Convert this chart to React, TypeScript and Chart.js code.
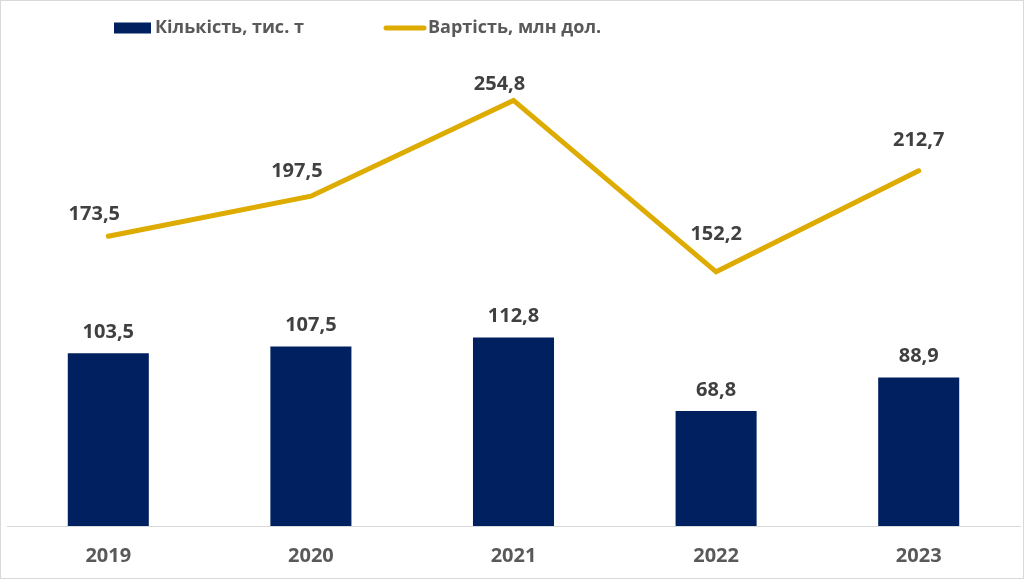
import { useEffect, useRef } from "react"
import { Chart, registerables } from "chart.js"
import type { Plugin } from "chart.js"

Chart.register(...registerables)

const years = ["2019", "2020", "2021", "2022", "2023"]
const quantity = [103.5, 107.5, 112.8, 68.8, 88.9]
const value = [173.5, 197.5, 254.8, 152.2, 212.7]
const seriesNames = ["Кількість, тис. т", "Вартість, млн дол."]

const navy = "#002060"
const gold = "#DEAB00"
const fontFamily = "'Open Sans', 'Noto Sans', sans-serif"

// label nudges for the line, px: [dx, height above the point]
const lineLabelShift = [[-14, 22], [-14, 25], [-14, 16], [0, 38], [0, 30]]
const barLabelLift = 21

const fmt = (v: number) => v.toFixed(1).replace(".", ",")

const valueLabels: Plugin = {
  id: "valueLabels",
  afterDatasetsDraw(chart) {
    const { ctx } = chart
    ctx.save()
    ctx.font = `bold 20px ${fontFamily}`
    ctx.fillStyle = "#404040"
    ctx.textAlign = "center"
    ctx.textBaseline = "middle"
    chart.data.datasets.forEach((ds, di) => {
      const meta = chart.getDatasetMeta(di)
      meta.data.forEach((el, i) => {
        const v = ds.data[i] as number
        if (meta.type === "bar") {
          ctx.fillText(fmt(v), el.x, el.y - barLabelLift)
        } else {
          const [dx, dy] = lineLabelShift[i]
          ctx.fillText(fmt(v), el.x + dx, el.y - dy)
        }
      })
    })
    ctx.restore()
  },
}

// legend row, placed as in the original (left of centre)
const legendRow: Plugin = {
  id: "legendRow",
  afterDraw(chart) {
    const { ctx } = chart
    const y = 27
    ctx.save()
    ctx.font = `bold 18px ${fontFamily}`
    ctx.textBaseline = "middle"
    // bar swatch
    ctx.fillStyle = navy
    ctx.fillRect(113, y - 5.5, 37, 11)
    ctx.fillStyle = "#595959"
    ctx.fillText(seriesNames[0], 154, y)
    // line swatch
    ctx.strokeStyle = gold
    ctx.lineWidth = 5
    ctx.lineCap = "round"
    ctx.beginPath()
    ctx.moveTo(385, y)
    ctx.lineTo(423, y)
    ctx.stroke()
    ctx.fillText(seriesNames[1], 427, y)
    ctx.restore()
  },
}

function ExportChart() {
  const canvasRef = useRef<HTMLCanvasElement>(null)
  const chartRef = useRef<Chart | null>(null)

  useEffect(() => {
    if (!canvasRef.current) return
    if (chartRef.current) chartRef.current.destroy()

    chartRef.current = new Chart(canvasRef.current, {
      type: "bar",
      data: {
        labels: years,
        datasets: [
          {
            type: "line",
            label: seriesNames[1],
            data: value,
            borderColor: gold,
            backgroundColor: gold,
            borderWidth: 5,
            borderCapStyle: "round",
            pointRadius: 0,
            tension: 0,
            order: 0,
          },
          {
            type: "bar",
            label: seriesNames[0],
            data: quantity,
            backgroundColor: navy,
            borderWidth: 0,
            barPercentage: 0.4,
            categoryPercentage: 1,
            order: 1,
          },
        ],
      },
      options: {
        responsive: true,
        maintainAspectRatio: false,
        animation: false,
        // the axis box reserves tick padding twice, so pull it below the edge
        layout: { padding: { top: 49, left: 6, right: 3, bottom: -8 } },
        plugins: {
          legend: { display: false },
          tooltip: { enabled: false },
        },
        scales: {
          x: {
            offset: true,
            grid: { display: false, drawTicks: false },
            border: { display: true, color: "#d9d9d9", width: 1 },
            ticks: {
              color: "#595959",
              padding: 18,
              font: { family: fontFamily, size: 20, weight: "bold" },
            },
          },
          y: { display: false, min: 0, max: 285 },
        },
      },
      plugins: [valueLabels, legendRow],
    })

    return () => {
      if (chartRef.current) {
        chartRef.current.destroy()
        chartRef.current = null
      }
    }
  }, [])

  return <canvas ref={canvasRef} />
}

export default function App() {
  document.body.style.margin = "0"
  return (
    <div
      style={{
        position: "relative",
        width: 1024,
        height: 579,
        border: "1px solid #d9d9d9",
        boxSizing: "border-box",
        background: "#fff",
      }}
    >
      <div style={{ position: "absolute", inset: 0 }}>
        <ExportChart />
      </div>
    </div>
  )
}
